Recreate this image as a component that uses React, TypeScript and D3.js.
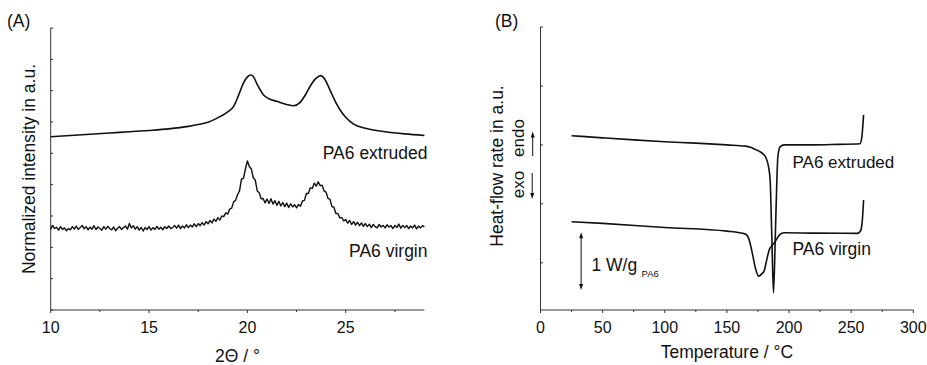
import React from "react";
import * as d3 from "d3";

// ---------- Panel A: XRD ----------
const xrdStart = 10;
const xrdStep = 0.1;
const xrdVirgin = [
  2.58, 2.70, 2.60, 2.64, 2.55, 2.66, 2.57, 2.62, 2.53, 2.60,
  2.56, 2.66, 2.58, 2.68, 2.57, 2.63, 2.70, 2.59, 2.66, 2.56,
  2.64, 2.58, 2.69, 2.57, 2.65, 2.60, 2.55, 2.66, 2.58, 2.67,
  2.60, 2.56, 2.65, 2.53, 2.61, 2.66, 2.57, 2.63, 2.68, 2.58,
  2.76, 2.62, 2.69, 2.58, 2.66, 2.55, 2.64, 2.52, 2.63, 2.57,
  2.66, 2.55, 2.63, 2.57, 2.67, 2.58, 2.64, 2.56, 2.66, 2.60,
  2.68, 2.60, 2.63, 2.70, 2.61, 2.71, 2.60, 2.68, 2.62, 2.72,
  2.63, 2.71, 2.65, 2.75, 2.66, 2.76, 2.69, 2.79, 2.71, 2.82,
  2.75, 2.86, 2.78, 2.90, 2.83, 2.95, 2.87, 3.00, 2.98, 3.10,
  3.06, 3.22, 3.25, 3.45, 3.50, 3.68, 3.80, 4.18, 4.20, 4.50,
  4.76, 4.58, 4.50, 4.22, 4.15, 3.80, 3.74, 3.55, 3.56, 3.42,
  3.54, 3.40, 3.55, 3.38, 3.49, 3.34, 3.47, 3.32, 3.43, 3.30,
  3.41, 3.27, 3.39, 3.29, 3.36, 3.26, 3.37, 3.31, 3.48, 3.50,
  3.72, 3.72, 3.90, 3.88, 4.05, 3.95, 4.09, 3.97, 3.98, 3.80,
  3.76, 3.56, 3.53, 3.30, 3.28, 3.08, 3.08, 2.94, 2.95, 2.84,
  2.89, 2.77, 2.86, 2.73, 2.82, 2.71, 2.80, 2.69, 2.78, 2.67,
  2.76, 2.66, 2.74, 2.63, 2.73, 2.66, 2.62, 2.73, 2.65, 2.70,
  2.62, 2.72, 2.65, 2.69, 2.60, 2.70, 2.63, 2.74, 2.61, 2.70,
  2.63, 2.70, 2.60, 2.68, 2.62, 2.71, 2.59, 2.68, 2.62, 2.69,
  2.65,
];

const xrdExtrudedTheta = [
  10, 11, 12, 13, 14, 15, 16, 17, 17.5, 18, 18.6, 19.0, 19.3, 19.55, 19.8, 20.0, 20.17, 20.3, 20.5, 20.8,
  21.1, 21.5, 22.0, 22.35, 22.67, 23.0, 23.2, 23.5, 23.73, 23.95, 24.2, 24.5, 24.75, 25.0, 25.4, 26.0, 27.0, 28.0, 29.0,
];
const xrdExtrudedI = [
  5.53, 5.57, 5.61, 5.65, 5.69, 5.73, 5.78, 5.86, 5.92, 5.99, 6.17, 6.32, 6.50, 6.85, 7.24, 7.44, 7.50, 7.45, 7.20, 6.88,
  6.74, 6.66, 6.56, 6.52, 6.62, 6.92, 7.15, 7.40, 7.48, 7.35, 7.02, 6.62, 6.35, 6.15, 5.93, 5.80, 5.69, 5.62, 5.57,
];

const xrdMajorTicks = [10, 15, 20, 25];
const xrdMinorTicks = [12.5, 17.5, 22.5, 27.5];
const xrdYTicks = [0, 1, 2, 3, 4, 5, 6, 7, 8, 9];

// ---------- Panel B: DSC ----------
const dscExtrudedT = [
  25, 50, 75, 100, 125, 150, 165, 169, 173, 177, 181, 183.5, 184.8, 186.2, 187.5, 188.9, 190.2, 191, 192.9, 196,
  220, 240, 257, 258.5, 260,
];
const dscExtrudedQ = [
  2.156, 2.12, 2.085, 2.054, 2.03, 2.0, 1.98, 1.96, 1.92, 1.88, 1.80, 1.63, 1.40, 0.4, -0.51, 0.4, 1.40, 1.80, 1.97, 2.0,
  2.0, 2.01, 2.02, 2.12, 2.51,
];
const dscVirginT = [
  25, 50, 100, 150, 165, 168, 170.5, 173, 175.5, 178, 180, 182, 184, 187, 190, 192.5, 196, 220, 255, 257.5, 259, 260,
];
const dscVirginQ = [
  0.696, 0.669, 0.60, 0.538, 0.487, 0.385, 0.16, -0.095, -0.226, -0.19, -0.136, 0.046, 0.216, 0.31, 0.40, 0.48, 0.51,
  0.504, 0.50, 0.54, 0.725, 1.065,
];
const dscMajorTicks = [0, 50, 100, 150, 200, 250, 300];
const dscMinorTicks = [25, 75, 125, 175, 225, 275];
const dscYTicks = [0, 1, 2, 3, 4];

const FONT = "'Liberation Sans', Arial, Helvetica, sans-serif";
const INK = "#111";
const AXIS = "#333";

export default function App() {
  const xA = d3.scaleLinear().domain([10, 29]).range([50.7, 424.4]);
  const yA = d3.scaleLinear().domain([0, 9]).range([310, 28]);
  const xB = d3.scaleLinear().domain([0, 300]).range([540.5, 913.3]);
  const yB = d3.scaleLinear().domain([-0.8, 4]).range([310, 27]);

  const lineA = d3
    .line<[number, number]>()
    .x((d) => xA(d[0]))
    .y((d) => yA(d[1]));
  const virginPts: [number, number][] = xrdVirgin.map((v, i) => [xrdStart + i * xrdStep, v]);
  const extrudedPts: [number, number][] = xrdExtrudedTheta.map((t, i) => [t, xrdExtrudedI[i]]);
  const smoothA = d3
    .line<[number, number]>()
    .x((d) => xA(d[0]))
    .y((d) => yA(d[1]))
    .curve(d3.curveMonotoneX);

  const lineB = d3
    .line<[number, number]>()
    .x((d) => xB(d[0]))
    .y((d) => yB(d[1]))
    .curve(d3.curveMonotoneX);
  const dscE: [number, number][] = dscExtrudedT.map((t, i) => [t, dscExtrudedQ[i]]);
  const dscV: [number, number][] = dscVirginT.map((t, i) => [t, dscVirginQ[i]]);

  const tickLen = 3;
  const labelSize = 17.5;
  const tickSize = 16;

  const arrowUp = (x: number, yTail: number, yTip: number) => (
    <g>
      <line x1={x} y1={yTail} x2={x} y2={yTip + 4} stroke={INK} strokeWidth={1} />
      <path d={`M${x},${yTip} L${x - 2},${yTip + 6} L${x + 2},${yTip + 6} Z`} fill={INK} />
    </g>
  );
  const arrowDown = (x: number, yTail: number, yTip: number) => (
    <g>
      <line x1={x} y1={yTail} x2={x} y2={yTip - 4} stroke={INK} strokeWidth={1} />
      <path d={`M${x},${yTip} L${x - 2},${yTip - 6} L${x + 2},${yTip - 6} Z`} fill={INK} />
    </g>
  );

  const barX = xB(32.7);
  const barTop = yB(0.52);
  const barBot = yB(-0.46);

  return (
    <svg
      width={927}
      height={365}
      style={{ position: "absolute", left: 0, top: 0, background: "#fff" }}
      fontFamily={FONT}
    >
      <rect x={0} y={0} width={927} height={365} fill="#fff" />

      {/* ---------- Panel A ---------- */}
      <text x={7} y={27} fontSize={labelSize} fill={INK}>(A)</text>
      <line x1={xA(10)} y1={yA(9)} x2={xA(10)} y2={yA(0)} stroke={AXIS} strokeWidth={1} />
      <line x1={xA(10)} y1={yA(0)} x2={xA(29)} y2={yA(0)} stroke={AXIS} strokeWidth={1} />
      {xrdYTicks.map((t) => (
        <line key={"ya" + t} x1={xA(10)} x2={xA(10) + 2.5} y1={yA(t)} y2={yA(t)} stroke={AXIS} strokeWidth={1} />
      ))}
      {xrdMajorTicks.map((t) => (
        <g key={"xa" + t}>
          <line x1={xA(t)} x2={xA(t)} y1={yA(0)} y2={yA(0) + tickLen} stroke={AXIS} strokeWidth={1} />
          <text x={xA(t)} y={332.5} fontSize={tickSize} textAnchor="middle" fill={INK}>{t}</text>
        </g>
      ))}
      {xrdMinorTicks.map((t) => (
        <line key={"xam" + t} x1={xA(t)} x2={xA(t)} y1={yA(0)} y2={yA(0) + 2} stroke={AXIS} strokeWidth={1} />
      ))}
      <text x={(xA(10) + xA(29)) / 2} y={362} fontSize={labelSize} textAnchor="middle" fill={INK}>2Θ / °</text>
      <text transform="translate(34.5,169) rotate(-90)" fontSize={labelSize} textAnchor="middle" fill={INK}>
        Normalized intensity in a.u.
      </text>
      <path d={smoothA(extrudedPts) || ""} fill="none" stroke={INK} strokeWidth={1.6} />
      <path d={lineA(virginPts) || ""} fill="none" stroke={INK} strokeWidth={1.4} strokeLinejoin="round" />
      <text x={427.5} y={159} fontSize={labelSize} textAnchor="end" fill={INK}>PA6 extruded</text>
      <text x={427.5} y={256.5} fontSize={labelSize} textAnchor="end" fill={INK}>PA6 virgin</text>

      {/* ---------- Panel B ---------- */}
      <text x={495} y={27} fontSize={labelSize} fill={INK}>(B)</text>
      <line x1={xB(0)} y1={yB(4)} x2={xB(0)} y2={yB(-0.8)} stroke={AXIS} strokeWidth={1} />
      <line x1={xB(0)} y1={yB(-0.8)} x2={xB(300)} y2={yB(-0.8)} stroke={AXIS} strokeWidth={1} />
      {dscYTicks.map((t) => (
        <line key={"yb" + t} x1={xB(0)} x2={xB(0) + 2.5} y1={yB(t)} y2={yB(t)} stroke={AXIS} strokeWidth={1} />
      ))}
      {dscMajorTicks.map((t) => (
        <g key={"xb" + t}>
          <line x1={xB(t)} x2={xB(t)} y1={yB(-0.8)} y2={yB(-0.8) + tickLen} stroke={AXIS} strokeWidth={1} />
          <text x={xB(t)} y={332.5} fontSize={tickSize} textAnchor="middle" fill={INK}>{t}</text>
        </g>
      ))}
      {dscMinorTicks.map((t) => (
        <line key={"xbm" + t} x1={xB(t)} x2={xB(t)} y1={yB(-0.8)} y2={yB(-0.8) + 2} stroke={AXIS} strokeWidth={1} />
      ))}
      <text x={(xB(0) + xB(300)) / 2} y={358} fontSize={labelSize} textAnchor="middle" fill={INK}>
        Temperature / °C
      </text>
      <text transform="translate(503,166) rotate(-90)" fontSize={labelSize} textAnchor="middle" fill={INK}>
        Heat-flow rate in a.u.
      </text>
      <text transform="translate(524,138) rotate(-90)" fontSize={17} textAnchor="middle" fill={INK}>endo</text>
      <text transform="translate(524,184.5) rotate(-90)" fontSize={17} textAnchor="middle" fill={INK}>exo</text>
      {arrowUp(532.7, 156, 131.5)}
      {arrowDown(532.2, 173, 199)}

      <path d={lineB(dscE) || ""} fill="none" stroke={INK} strokeWidth={1.6} />
      <path d={lineB(dscV) || ""} fill="none" stroke={INK} strokeWidth={1.6} />
      <text x={792.5} y={168} fontSize={17} fill={INK}>PA6 extruded</text>
      <text x={792.5} y={255} fontSize={labelSize} fill={INK}>PA6 virgin</text>

      {/* scale bar */}
      <line x1={barX} x2={barX} y1={barTop + 4} y2={barBot - 4} stroke={INK} strokeWidth={1} />
      <path d={`M${barX},${barTop} L${barX - 2},${barTop + 6} L${barX + 2},${barTop + 6} Z`} fill={INK} />
      <path d={`M${barX},${barBot} L${barX - 2},${barBot - 6} L${barX + 2},${barBot - 6} Z`} fill={INK} />
      <text x={591.5} y={270.5} fontSize={labelSize} fill={INK}>1 W/g</text>
      <text x={641.5} y={277} fontSize={9.5} fill={INK}>PA6</text>
    </svg>
  );
}
